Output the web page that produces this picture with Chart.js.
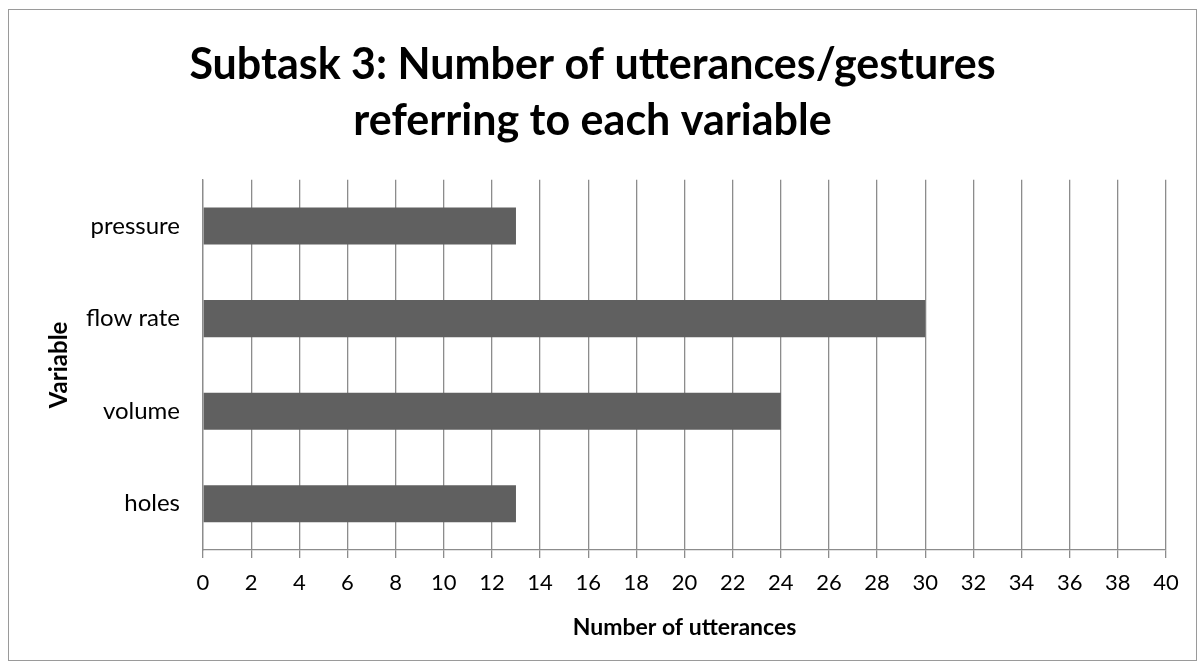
<!DOCTYPE html>
<html>
<head>
<meta charset="utf-8">
<title>Subtask 3 utterances</title>
<script src="https://cdn.jsdelivr.net/npm/chart.js@4/dist/chart.umd.min.js"></script>
<style>
  html, body { margin: 0; padding: 0; background: #fff; }
  #wrap { width: 1204px; height: 666px; position: relative; }
</style>
</head>
<body>
<div id="wrap"><canvas id="chart" width="1204" height="666"></canvas></div>
<script>
// Variables mentioned in subtask 3 and how often each came up
const variables = ['pressure', 'flow rate', 'volume', 'holes'];
const utterances = [13, 30, 24, 13];

const titleLines = ['Subtask 3: Number of utterances/gestures', 'referring to each variable'];
const xTitle = 'Number of utterances';
const yTitle = 'Variable';

const FONT = 'Lato, "Open Sans", sans-serif';
const GRID = '#8c8c8c';

// thin frame around the whole chart
const framePlugin = {
  id: 'frame',
  beforeDraw(chart) {
    const ctx = chart.ctx;
    ctx.save();
    ctx.fillStyle = '#fff';
    ctx.fillRect(0, 0, chart.width, chart.height);
    ctx.strokeStyle = '#9a9a9a';
    ctx.lineWidth = 1;
    ctx.strokeRect(8.5, 9.5, 1188, 651);
    ctx.restore();
  }
};

const chart = new Chart(document.getElementById('chart'), {
  type: 'bar',
  data: {
    labels: variables,
    datasets: [{
      label: 'utterances',
      data: utterances,
      backgroundColor: '#606060',
      borderWidth: 0,
      barPercentage: 0.4,
      categoryPercentage: 1.0
    }]
  },
  options: {
    indexAxis: 'y',
    responsive: false,
    animation: false,
    layout: { padding: { left: 19, right: 38, top: 0, bottom: 0 } },
    scales: {
      x: {
        min: 0,
        max: 40,
        ticks: { stepSize: 2, color: '#000', padding: 12, font: { family: FONT, size: 22 } },
        grid: { color: GRID, lineWidth: 1.3, tickLength: 8, tickColor: GRID },
        border: { color: GRID, width: 1.3 },
        title: {
          display: true, text: xTitle, color: '#000',
          font: { family: FONT, size: 23, weight: 'bold' },
          padding: { top: 0, bottom: 25 }
        },
        afterFit(scale) { scale.height = 116; }
      },
      y: {
        ticks: { color: '#000', padding: 23, font: { family: FONT, size: 24 } },
        grid: { display: false, drawTicks: false },
        border: { display: true, color: GRID, width: 1.3 },
        title: {
          display: true, text: yTitle, color: '#000',
          font: { family: FONT, size: 24, weight: 'bold' },
          padding: { top: 26, bottom: 0 }
        },
        afterFit(scale) { scale.width = 184; }
      }
    },
    plugins: {
      legend: { display: false },
      tooltip: { enabled: false },
      title: {
        display: true,
        text: titleLines,
        color: '#000',
        font: { family: FONT, size: 43, weight: 'bold', lineHeight: 1.3 },
        padding: { top: 37, bottom: 31 }
      }
    }
  },
  plugins: [framePlugin]
});
</script>
</body>
</html>
